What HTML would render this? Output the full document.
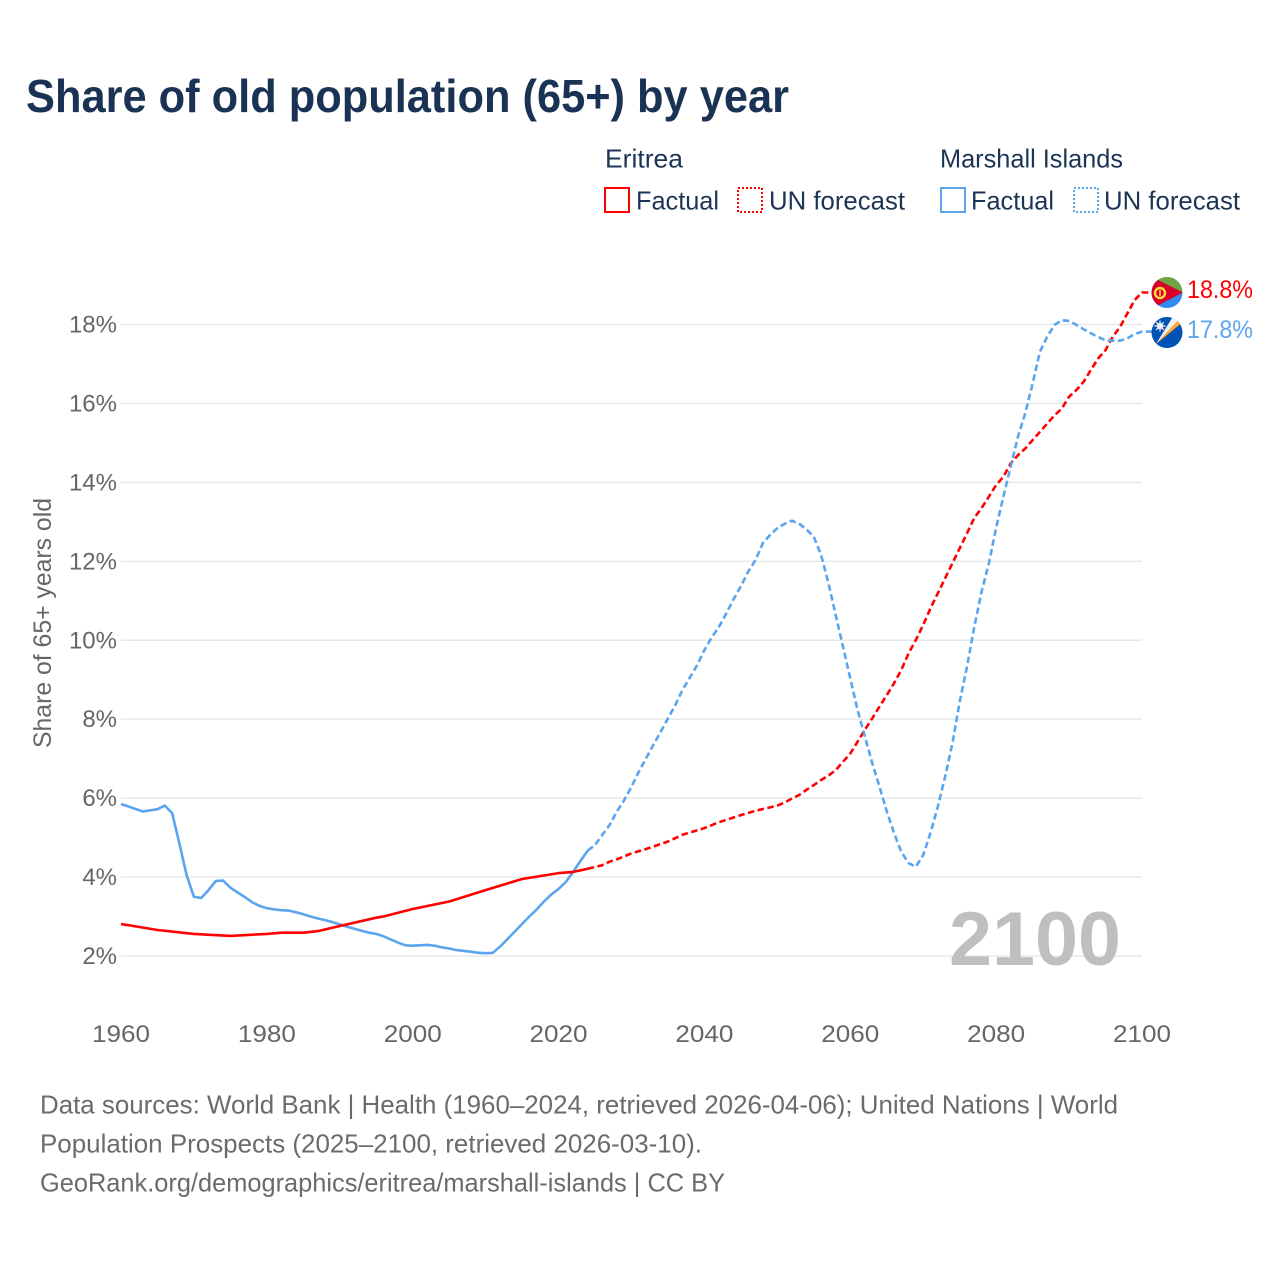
<!DOCTYPE html>
<html lang="en">
<head>
<meta charset="utf-8">
<title>Share of old population (65+) by year</title>
<style>
html,body{margin:0;padding:0;background:#fff;}
svg{display:block;}
text{font-family:"Liberation Sans",sans-serif;}
</style>
</head>
<body>
<svg id="chart" xmlns="http://www.w3.org/2000/svg" width="1280" height="1280" viewBox="0 0 1280 1280">
  <rect x="0" y="0" width="1280" height="1280" fill="#ffffff"/>
  <text x="26" y="112" font-size="46" font-weight="bold" fill="#1a3354" textLength="763" lengthAdjust="spacingAndGlyphs">Share of old population (65+) by year</text>

  <g font-size="26" fill="#1c3557">
    <text x="605" y="167.5" textLength="78" lengthAdjust="spacingAndGlyphs">Eritrea</text>
    <rect x="605" y="188" width="24" height="24" fill="none" stroke="#ff0000" stroke-width="2" shape-rendering="crispEdges"/>
    <text x="636" y="209.5" textLength="83" lengthAdjust="spacingAndGlyphs">Factual</text>
    <rect x="738" y="188" width="24" height="24" fill="none" stroke="#ff0000" stroke-width="2" stroke-dasharray="2 2" shape-rendering="crispEdges"/>
    <text x="769" y="209.5" textLength="136" lengthAdjust="spacingAndGlyphs">UN forecast</text>
    <text x="940" y="167.5" textLength="183" lengthAdjust="spacingAndGlyphs">Marshall Islands</text>
    <rect x="941" y="188" width="24" height="24" fill="none" stroke="#5ba4ee" stroke-width="2" shape-rendering="crispEdges"/>
    <text x="971" y="209.5" textLength="83" lengthAdjust="spacingAndGlyphs">Factual</text>
    <rect x="1074" y="188" width="24" height="24" fill="none" stroke="#5ba4ee" stroke-width="2" stroke-dasharray="2 2" shape-rendering="crispEdges"/>
    <text x="1104" y="209.5" textLength="136" lengthAdjust="spacingAndGlyphs">UN forecast</text>
  </g>

  <g id="grid"></g>
  <g id="yticks" font-size="24" fill="#666666" text-anchor="end"></g>
  <g id="xticks" font-size="24" fill="#666666" text-anchor="middle"></g>

  <text transform="translate(51 623) rotate(-90)" font-size="25" fill="#666666" text-anchor="middle" textLength="250" lengthAdjust="spacingAndGlyphs">Share of 65+ years old</text>

  <text x="949" y="965" font-size="76" font-weight="bold" fill="#bfbfbf" textLength="172" lengthAdjust="spacingAndGlyphs">2100</text>

  <g id="series"></g>

  <g>
    <clipPath id="clip-er"><circle cx="1167" cy="292.5" r="15.5"/></clipPath>
    <g clip-path="url(#clip-er)">
      <rect x="1150" y="276" width="34" height="17" fill="#6da544"/>
      <rect x="1150" y="292.5" width="34" height="17" fill="#338af3"/>
      <polygon points="1150,276 1183,292.5 1150,309.5" fill="#d80027"/>
    </g>
    <circle cx="1160" cy="293" r="5" fill="none" stroke="#ffda44" stroke-width="2.4"/>
    <rect x="1159.2" y="290" width="1.6" height="6" fill="#ffda44"/>
  </g>
  <g>
    <clipPath id="clip-mh"><circle cx="1167" cy="332.5" r="15.5"/></clipPath>
    <g clip-path="url(#clip-mh)">
      <rect x="1150" y="316" width="34" height="34" fill="#0052b4"/>
      <polygon points="1156,344 1177,320 1181,317 1183,322" fill="#ffa73b"/>
      <polygon points="1156,344 1172,318 1177,316 1180,318" fill="#f0f0f0"/>
    </g>
    <circle cx="1160" cy="326" r="3.2" fill="#f0f0f0"/>
    <path d="M1160 320.5V331.5M1154.5 326H1165.5M1156.2 322.2L1163.8 329.8M1156.2 329.8L1163.8 322.2" stroke="#f0f0f0" stroke-width="1.2"/>
  </g>

  <text x="1187" y="298" font-size="25" fill="#ff0000" textLength="66" lengthAdjust="spacingAndGlyphs">18.8%</text>
  <text x="1187" y="338" font-size="25" fill="#5ba4ee" textLength="66" lengthAdjust="spacingAndGlyphs">17.8%</text>

  <g font-size="26" fill="#6b6b6b">
    <text x="40" y="1113.5" textLength="1078" lengthAdjust="spacingAndGlyphs">Data sources: World Bank | Health (1960–2024, retrieved 2026-04-06); United Nations | World</text>
    <text x="40" y="1152.5" textLength="662" lengthAdjust="spacingAndGlyphs">Population Prospects (2025–2100, retrieved 2026-03-10).</text>
    <text x="40" y="1191.5" textLength="685" lengthAdjust="spacingAndGlyphs">GeoRank.org/demographics/eritrea/marshall-islands | CC BY</text>
  </g>
</svg>
<script>
const yTicks = [2, 4, 6, 8, 10, 12, 14, 16, 18];
const xTicks = [1960, 1980, 2000, 2020, 2040, 2060, 2080, 2100];

const eritreaFactualYears = [1960,1962,1965,1970,1975,1980,1982,1985,1987,1990,1995,1996,2000,2005,2010,2015,2020,2022,2024];
const eritreaFactualValues = [2.81,2.75,2.66,2.56,2.51,2.56,2.59,2.59,2.63,2.76,2.97,3.0,3.19,3.38,3.67,3.95,4.1,4.13,4.21];

const eritreaForecastYears = [2024,2026,2027,2028,2030,2032,2035,2037,2040,2042,2045,2047,2050,2051,2052,2053,2054,2055,2056,2057,2058,2059,2060,2061,2062,2063,2064,2065,2066,2067,2068,2069,2070,2071,2072,2073,2074,2075,2076,2077,2078,2079,2080,2081,2082,2083,2084,2085,2086,2087,2088,2089,2090,2091,2092,2093,2094,2095,2096,2097,2098,2099,2100];
const eritreaForecastValues = [4.21,4.3,4.39,4.45,4.6,4.71,4.9,5.07,5.24,5.39,5.57,5.68,5.81,5.89,5.99,6.08,6.21,6.33,6.46,6.57,6.71,6.92,7.13,7.43,7.73,8.02,8.32,8.61,8.91,9.25,9.67,10.01,10.39,10.81,11.19,11.57,11.95,12.33,12.71,13.1,13.35,13.64,13.93,14.14,14.48,14.69,14.86,15.07,15.28,15.49,15.7,15.87,16.17,16.34,16.55,16.85,17.14,17.35,17.69,17.94,18.28,18.62,18.81];

const marshallFactualYears = [1960,1963,1965,1966,1967,1968,1969,1970,1971,1972,1973,1974,1975,1976,1977,1978,1979,1980,1981,1982,1983,1984,1985,1986,1987,1988,1989,1990,1991,1992,1993,1994,1995,1996,1997,1998,1999,2000,2002,2003,2004,2005,2006,2007,2008,2009,2010,2011,2012,2013,2014,2015,2016,2017,2018,2019,2020,2021,2022,2023,2024];
const marshallFactualValues = [5.85,5.66,5.72,5.81,5.62,4.86,4.05,3.5,3.47,3.67,3.9,3.91,3.73,3.61,3.49,3.36,3.27,3.21,3.18,3.16,3.15,3.11,3.06,3.0,2.95,2.91,2.86,2.8,2.74,2.69,2.64,2.59,2.56,2.5,2.42,2.34,2.27,2.26,2.28,2.26,2.22,2.19,2.15,2.13,2.11,2.08,2.07,2.08,2.24,2.43,2.62,2.81,3.0,3.18,3.38,3.56,3.7,3.88,4.13,4.41,4.67];

const marshallForecastYears = [2024,2025,2026,2027,2028,2029,2030,2031,2032,2033,2034,2035,2036,2037,2038,2039,2040,2041,2042,2043,2044,2045,2046,2047,2048,2049,2050,2051,2052,2053,2054,2055,2056,2057,2058,2059,2060,2061,2062,2063,2064,2065,2066,2067,2068,2069,2070,2071,2072,2073,2074,2075,2076,2077,2078,2079,2080,2081,2082,2083,2084,2085,2086,2087,2088,2089,2090,2091,2092,2093,2094,2095,2096,2097,2098,2099,2100];
const marshallForecastValues = [4.67,4.81,5.07,5.32,5.66,5.95,6.29,6.67,7.01,7.35,7.68,8.02,8.36,8.74,9.05,9.37,9.75,10.07,10.34,10.68,11.04,11.37,11.74,12.03,12.46,12.67,12.84,12.95,13.03,12.95,12.81,12.62,12.16,11.45,10.64,9.84,9.03,8.23,7.56,6.89,6.29,5.66,5.12,4.64,4.35,4.26,4.56,5.12,5.78,6.54,7.39,8.44,9.33,10.34,11.23,11.95,12.85,13.64,14.4,15.16,15.76,16.5,17.31,17.69,17.99,18.11,18.09,17.99,17.88,17.78,17.68,17.6,17.59,17.59,17.65,17.76,17.82];

const NS = 'http://www.w3.org/2000/svg';
function xScale(year) { return 121 + (year - 1960) * (1021 / 140); }
function yScale(v) { return 956 - (v - 2) * (631.5 / 16); }
function linePath(years, values, endX) {
  let d = years.map(function (yr, i) {
    return (i ? 'L' : 'M') + xScale(yr).toFixed(1) + ' ' + yScale(values[i]).toFixed(1);
  }).join('');
  if (endX) { d += 'L' + endX + ' ' + yScale(values[values.length - 1]).toFixed(1); }
  return d;
}

const grid = document.getElementById('grid');
const yG = document.getElementById('yticks');
yTicks.forEach(function (t) {
  const ln = document.createElementNS(NS, 'line');
  
  
  ln.setAttribute('x1', 121);
  ln.setAttribute('x2', 1142);
  ln.setAttribute('y1', yScale(t));
  ln.setAttribute('y2', yScale(t));
  ln.setAttribute('stroke', '#e8e8e8');
  ln.setAttribute('stroke-width', '1.4');
  grid.appendChild(ln);
  const tx = document.createElementNS(NS, 'text');
  
  
  tx.setAttribute('x', 117);
  tx.setAttribute('y', yScale(t) + 8);
  tx.textContent = t + '%';
  yG.appendChild(tx);
});

const xG = document.getElementById('xticks');
xTicks.forEach(function (t) {
  const tx = document.createElementNS(NS, 'text');
  
  
  tx.setAttribute('x', xScale(t));
  tx.setAttribute('y', 1042);
  tx.setAttribute('textLength', 58);
  tx.setAttribute('lengthAdjust', 'spacingAndGlyphs');
  tx.textContent = t;
  xG.appendChild(tx);
});

const seriesG = document.getElementById('series');
function addLine(years, values, color, dashed, endX, name) {
  const p = document.createElementNS(NS, 'path');
  
  
  p.setAttribute('d', linePath(years, values, endX));
  p.setAttribute('fill', 'none');
  p.setAttribute('stroke', color);
  p.setAttribute('stroke-width', '2.6');
  p.setAttribute('stroke-linejoin', 'round');
  if (dashed) { p.setAttribute('stroke-dasharray', '6.5 3.5'); }
  seriesG.appendChild(p);
}
addLine(eritreaForecastYears, eritreaForecastValues, '#ff0000', true, 1152, 'line-eritrea-forecast');
addLine(marshallForecastYears, marshallForecastValues, '#5ba4ee', true, 1152, 'line-marshall-forecast');
addLine(marshallFactualYears, marshallFactualValues, '#5ba4ee', false, 0, 'line-marshall-factual');
addLine(eritreaFactualYears, eritreaFactualValues, '#ff0000', false, 0, 'line-eritrea-factual');
</script>
</body>
</html>
